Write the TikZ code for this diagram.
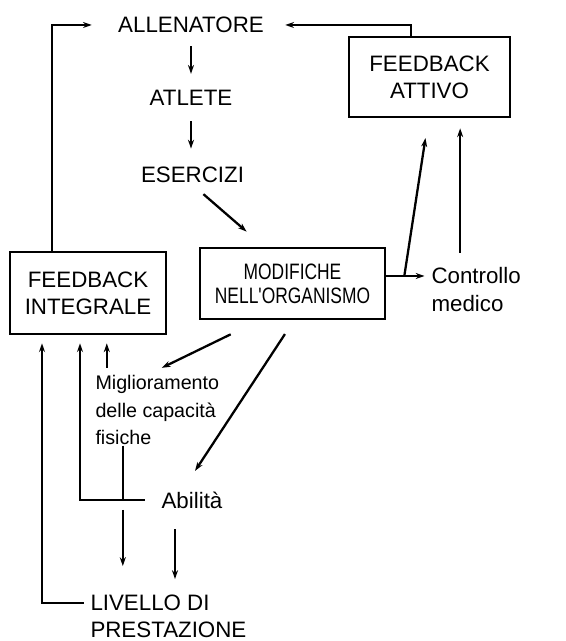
\documentclass[tikz,border=0pt]{standalone}
\usepackage{fontspec}
\setmainfont{Liberation Sans}
\newfontfamily\narrowfont[FakeStretch=0.78]{Liberation Sans}
\usetikzlibrary{arrows.meta}

\begin{document}
\begin{tikzpicture}[
    line width=1.3pt, >={Stealth[length=5pt,width=3.4pt]},
    font=\fontsize{12.7}{15.4}\selectfont,
    box/.style={draw, line width=1.5pt, align=center},
    note/.style={align=left, font=\fontsize{11.2}{15.9}\selectfont}
  ]

    \useasboundingbox (0,0) rectangle (11.32,12.82);

    % Chain on the top left
    \node (allen) at (3.82,12.32) {ALLENATORE};
    \node (atlete) at (3.82,10.86) {ATLETE};
    \node (eserc) at (3.85,9.32) {ESERCIZI};

    % The three boxes
    \node[box, minimum width=3.22cm, minimum height=1.6cm] (fbatt) at (8.59,11.28) {FEEDBACK\\ATTIVO};
    \node[box, minimum width=3.12cm, minimum height=1.64cm] (fbint) at (1.76,6.96) {FEEDBACK\\INTEGRALE};
    \node[box, minimum width=3.7cm, minimum height=1.42cm, font=\narrowfont\fontsize{12.7}{13.7}\selectfont] (modif) at (5.85,7.15) {MODIFICHE\\NELL'ORGANISMO};

    % Other labels
    \node[anchor=west, align=left] (contr) at (8.49,7.03) {Controllo\\medico};
    \node[note, anchor=west] (migl) at (1.77,4.62) {Miglioramento\\delle capacità\\fisiche};
    \node (abil) at (3.84,2.82) {Abilità};
    \node[anchor=west, align=left] (livello) at (1.67,0.49) {LIVELLO DI\\PRESTAZIONE};

    % Arrows down the chain
    \draw[->, shorten <=0.13cm, shorten >=0.19cm] (allen) -- (atlete);
    \draw[->, shorten <=0.17cm, shorten >=0.23cm] (atlete) -- (atlete |- eserc.north);
    \draw[->, shorten <=0.13cm, shorten >=0.46cm] ([xshift=0.12cm]eserc.south) -- ([xshift=-0.57cm]modif.north);

    % Organism to Controllo medico, branch up to FEEDBACK ATTIVO
    \coordinate (mo) at ([yshift=0.15cm]modif.east);
    \coordinate (br) at ([xshift=0.36cm]mo);
    \draw[->] (mo) -- (mo -| contr.west);
    \draw[->, shorten >=0.4cm] (br) -- ([xshift=-0.02cm]fbatt.south);
    \coordinate (cm) at ([xshift=-0.32cm,yshift=0.16cm]contr.north);
    \draw[->, shorten >=0.2cm] (cm) -- (cm |- fbatt.south);

    % Feedback back to ALLENATORE
    \draw[->] ([xshift=-0.72cm]fbint.north) |- ([xshift=-0.39cm]allen.west);
    \draw[->] ([xshift=-0.37cm]fbatt.north) |- ([xshift=0.29cm]allen.east);

    % Down from the organism box
    \draw[->, shorten <=0.64cm] ([xshift=-0.66cm]modif.south) -- ([xshift=0.09cm]migl.north);
    \draw[->, shorten <=0.33cm, shorten >=0.33cm] ([xshift=0.03cm]modif.south) -- ([xshift=-0.12cm]abil.north);

    % Into FEEDBACK INTEGRALE from below
    \coordinate (mu) at ([xshift=-1.01cm]migl.north);
    \draw[->, shorten >=0.16cm] (mu) -- (mu |- fbint.south);
    \coordinate (mb) at ([xshift=-0.69cm,yshift=0.13cm]migl.south);
    \draw (mb) -- (mb |- abil.west);
    \draw[->, shorten >=0.16cm] ([xshift=-0.2cm]abil.west) -| ([xshift=-0.16cm]fbint.south);
    \draw[->, shorten >=0.16cm] ([yshift=0.27cm]livello.west) -| ([xshift=-0.92cm]fbint.south);

    % Down to LIVELLO DI PRESTAZIONE
    \draw[->, shorten <=0.2cm, shorten >=0.44cm] (mb |- abil.west) -- (mb |- livello.north);
    \coordinate (ab) at ([xshift=-0.34cm]abil.south);
    \draw[->, shorten <=0.28cm, shorten >=0.18cm] (ab) -- (ab |- livello.north);

\end{tikzpicture}
\end{document}
